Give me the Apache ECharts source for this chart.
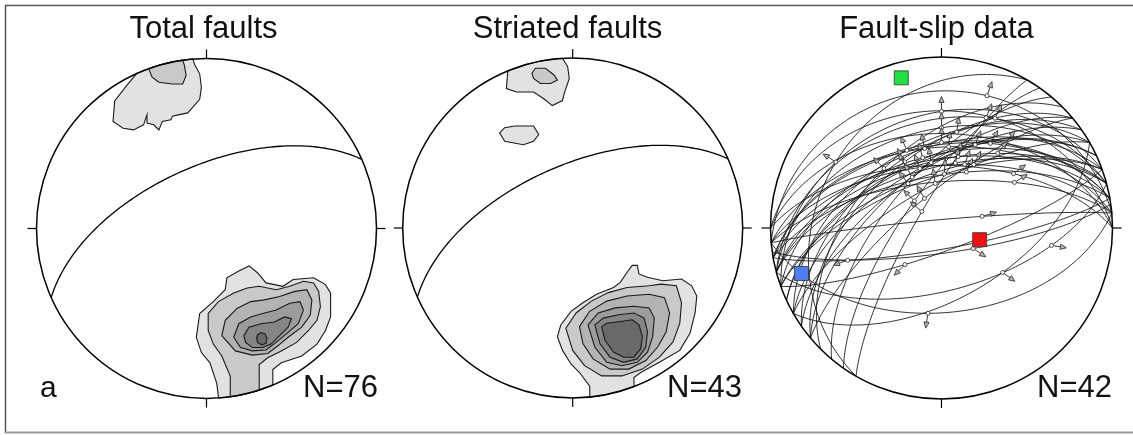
<!DOCTYPE html>
<html><head><meta charset="utf-8">
<script src="https://cdn.jsdelivr.net/npm/echarts@6/dist/echarts.min.js"></script>
<style>html,body{margin:0;padding:0;background:#fff}#c{width:1133px;height:435px}</style>
</head><body><div id="c"></div>
<script>
// ---------------- DATA ----------------
const titles = ['Total faults', 'Striated faults', 'Fault-slip data'];
const counts = ['N=76', 'N=43', 'N=42'];
const panelLetter = 'a';

// mean plane shown in panels 1 & 2 : [dip direction, dip]
const meanPlane = [336, 60];

// density contours, equal-area stereonet coordinates (unit primitive)
const totalTopL1 = [[-0.42,0.93],[-0.47,0.84],[-0.54,0.75],[-0.55,0.63],[-0.49,0.59],[-0.43,0.58],[-0.37,0.61],[-0.35,0.67],[-0.35,0.62],[-0.31,0.61],[-0.28,0.58],[-0.26,0.63],[-0.21,0.64],[-0.20,0.66],[-0.16,0.67],[-0.11,0.68],[-0.04,0.76],[-0.03,0.83],[-0.04,0.91],[-0.07,0.965],[-0.08,1.0]];
const totalTopL2 = [[-0.34,0.94],[-0.32,0.89],[-0.28,0.86],[-0.20,0.85],[-0.14,0.85],[-0.12,0.90],[-0.13,0.96],[-0.14,0.99]];
const totalL1 = [[0.07,-0.98],[0.06,-0.91],[0.02,-0.79],[-0.03,-0.73],[-0.06,-0.64],[-0.04,-0.50],[0.04,-0.43],[0.11,-0.36],[0.12,-0.29],[0.19,-0.25],[0.25,-0.22],[0.30,-0.26],[0.35,-0.32],[0.45,-0.34],[0.51,-0.30],[0.63,-0.29],[0.70,-0.33],[0.73,-0.38],[0.73,-0.52],[0.70,-0.60],[0.65,-0.68],[0.56,-0.75],[0.44,-0.79],[0.39,-0.83],[0.39,-0.92]];
const totalL2 = [[0.14,-0.99],[0.14,-0.87],[0.09,-0.75],[0.04,-0.68],[0.01,-0.60],[0.01,-0.50],[0.07,-0.43],[0.16,-0.38],[0.24,-0.35],[0.31,-0.34],[0.41,-0.36],[0.49,-0.34],[0.57,-0.31],[0.63,-0.32],[0.66,-0.37],[0.67,-0.46],[0.65,-0.54],[0.60,-0.60],[0.53,-0.67],[0.44,-0.72],[0.36,-0.76],[0.31,-0.80],[0.31,-0.95]];
const totalL3 = [[0.09,-0.63],[0.11,-0.54],[0.18,-0.47],[0.26,-0.43],[0.34,-0.42],[0.43,-0.40],[0.52,-0.37],[0.59,-0.36],[0.62,-0.42],[0.61,-0.51],[0.56,-0.58],[0.48,-0.64],[0.42,-0.69],[0.36,-0.735],[0.27,-0.745],[0.17,-0.72]];
const totalL4 = [[0.16,-0.64],[0.19,-0.56],[0.26,-0.52],[0.33,-0.50],[0.41,-0.48],[0.49,-0.44],[0.55,-0.43],[0.57,-0.48],[0.54,-0.56],[0.47,-0.62],[0.41,-0.67],[0.35,-0.715],[0.27,-0.72],[0.20,-0.70]];
const totalL5 = [[0.22,-0.63],[0.25,-0.58],[0.32,-0.56],[0.40,-0.55],[0.46,-0.52],[0.50,-0.53],[0.48,-0.58],[0.43,-0.63],[0.38,-0.68],[0.33,-0.70],[0.27,-0.70],[0.23,-0.67]];
const totalL6 = [[0.30,-0.625],[0.32,-0.612],[0.345,-0.62],[0.355,-0.645],[0.35,-0.675],[0.325,-0.685],[0.30,-0.67],[0.295,-0.645]];

const striTopL1 = [[-0.38,0.92],[-0.39,0.82],[-0.33,0.80],[-0.23,0.80],[-0.17,0.76],[-0.12,0.72],[-0.06,0.75],[-0.05,0.79],[-0.02,0.88],[-0.03,0.95],[-0.06,0.98],[-0.09,0.99]];
const striTopL2 = [[-0.24,0.91],[-0.22,0.94],[-0.16,0.94],[-0.11,0.90],[-0.09,0.87],[-0.13,0.85],[-0.19,0.85],[-0.23,0.88]];
const striIsland = [[-0.43,0.56],[-0.40,0.59],[-0.34,0.60],[-0.23,0.60],[-0.20,0.55],[-0.23,0.51],[-0.29,0.49],[-0.40,0.51]];
const striL1 = [[0.10,-0.99],[0.10,-0.93],[0.04,-0.85],[-0.01,-0.80],[-0.06,-0.72],[-0.09,-0.64],[-0.07,-0.57],[-0.01,-0.49],[0.06,-0.44],[0.14,-0.39],[0.24,-0.35],[0.28,-0.32],[0.32,-0.26],[0.35,-0.22],[0.38,-0.22],[0.39,-0.27],[0.44,-0.29],[0.53,-0.31],[0.64,-0.30],[0.70,-0.34],[0.73,-0.40],[0.72,-0.50],[0.69,-0.62],[0.63,-0.72],[0.51,-0.79],[0.40,-0.85],[0.36,-0.88],[0.36,-0.93]];
const striL2 = [[-0.04,-0.59],[0.02,-0.50],[0.11,-0.43],[0.21,-0.38],[0.32,-0.35],[0.45,-0.34],[0.52,-0.33],[0.61,-0.34],[0.64,-0.44],[0.63,-0.56],[0.59,-0.67],[0.51,-0.76],[0.41,-0.83],[0.29,-0.87],[0.17,-0.87],[0.07,-0.81],[0.0,-0.72]];
const striL3 = [[0.04,-0.58],[0.10,-0.49],[0.20,-0.43],[0.32,-0.40],[0.45,-0.39],[0.54,-0.41],[0.57,-0.50],[0.55,-0.61],[0.50,-0.70],[0.43,-0.78],[0.33,-0.83],[0.22,-0.83],[0.12,-0.77],[0.06,-0.68]];
const striL4 = [[0.09,-0.57],[0.15,-0.50],[0.25,-0.47],[0.36,-0.46],[0.45,-0.47],[0.48,-0.53],[0.47,-0.64],[0.44,-0.73],[0.38,-0.79],[0.29,-0.81],[0.20,-0.79],[0.13,-0.70]];
const striL5 = [[0.13,-0.57],[0.18,-0.53],[0.27,-0.51],[0.36,-0.50],[0.42,-0.53],[0.44,-0.61],[0.43,-0.70],[0.38,-0.77],[0.30,-0.79],[0.22,-0.76],[0.16,-0.68]];
const striL6 = [[0.17,-0.58],[0.20,-0.56],[0.28,-0.55],[0.35,-0.54],[0.39,-0.57],[0.41,-0.64],[0.40,-0.71],[0.36,-0.76],[0.30,-0.76],[0.24,-0.73],[0.19,-0.66]];

// fault-slip data: plane dip direction, dip, striation trend
const faultDipDir = [300,315,330,320,335,325,310,340,345,330,340,345,350,355,350,345,340,350,355,355,345,0,350,0,0,355,305,320,355,172,165,150,160,170,175,330,340,320,345,325,335,300];
const faultDip    = [28,50,49,54,56,62,64,51,55,60,34,42,49,51,57,61,64,65,60,21,37,32,50,44,60,68,72,74,86,78,60,56,79,80,49,70,66,62,58,52,57,78];
const striaTrend  = [302,316,336,331,330,330,323,348,345,340,0,0,0,5,13,12,20,24,27,19,22,26,30,37,53,58,315,330,74,123,99,126,225,251,189,352,3,351,37,9,22,310];

// stress axes (trend, plunge)
const stressTrend  = [107, 345, 252];
const stressPlunge = [71, 10, 15];

// ---------------- GEOMETRY ----------------
const D2R = Math.PI / 180;
const layout = [{cx:206.5, cy:228.5, r:170}, {cx:572.7, cy:228, r:170}, {cx:941.5, cy:228, r:171}];
const levelFill = [null,'#e2e2e2','#c9c9c9','#b3b3b3','#9c9c9c','#858585','#6a6a6a'];
const stressColors = ['#ee1111', '#22dd44', '#4d7ff2'];

function proj(trend, plunge) {
  const r = Math.SQRT2 * Math.sin((90 - plunge) / 2 * D2R);
  return [r * Math.sin(trend * D2R), r * Math.cos(trend * D2R)];
}
function planeCurve(dd, dip, n) {
  const pts = [], s = (dd - 90) * D2R, d = dd * D2R, dp = dip * D2R;
  for (let k = 0; k <= n; k++) {
    const f = k / n * Math.PI;
    const e = Math.cos(f) * Math.sin(s) + Math.sin(f) * Math.cos(dp) * Math.sin(d);
    const no = Math.cos(f) * Math.cos(s) + Math.sin(f) * Math.cos(dp) * Math.cos(d);
    const dn = Math.sin(f) * Math.sin(dp);
    pts.push(proj(Math.atan2(e, no) / D2R, Math.asin(Math.min(1, dn)) / D2R));
  }
  return pts;
}
function pushArc(out, a, b) {
  const a1 = Math.atan2(a[1], a[0]); let d = Math.atan2(b[1], b[0]) - a1;
  while (d > Math.PI) d -= 2 * Math.PI; while (d < -Math.PI) d += 2 * Math.PI;
  const steps = Math.max(2, Math.ceil(Math.abs(d) / 0.02));
  for (let k = 1; k < steps; k++) { const an = a1 + d * k / steps; out.push([Math.cos(an), Math.sin(an)]); }
}
function ring(pts) {
  const TH = 0.975;
  const arr = pts.map(p => { const r = Math.hypot(p[0], p[1]); return r >= TH ? {p:[p[0]/r, p[1]/r], b:true} : {p:p, b:false}; });
  const out = [];
  for (let i = 0; i < arr.length; i++) {
    if (i > 0 && arr[i-1].b && arr[i].b) pushArc(out, arr[i-1].p, arr[i].p);
    out.push(arr[i].p);
  }
  const n = arr.length;
  if (arr[n-1].b && arr[0].b) pushArc(out, arr[n-1].p, arr[0].p);
  return out;
}

const totalContours = [[1,totalTopL1],[2,totalTopL2],[1,totalL1],[2,totalL2],[3,totalL3],[4,totalL4],[5,totalL5],[6,totalL6]];
const striContours  = [[1,striTopL1],[2,striTopL2],[1,striIsland],[1,striL1],[2,striL2],[3,striL3],[4,striL4],[5,striL5],[6,striL6]];

function contourSeries(list, gi) {
  return {
    type:'custom', xAxisIndex:gi, yAxisIndex:gi, clip:false, silent:true, z:1,
    data: list.map((c, i) => [0, 0, i]),
    renderItem: function (params, api) {
      const c = list[api.value(2)];
      const pts = ring(c[1]).map(p => api.coord(p));
      return {type:'polygon', shape:{points:pts}, style:{fill:levelFill[c[0]], stroke:'#1a1a1a', lineWidth:1.1}};
    }
  };
}
function frameSeries(gi) {
  return {
    type:'custom', xAxisIndex:gi, yAxisIndex:gi, clip:false, silent:true, z:5,
    data:[[0,0,0]],
    renderItem: function (params, api) {
      const c = api.coord([0,0]); const r = api.coord([1,0])[0] - c[0]; const t = 9;
      const ln = (x1,y1,x2,y2) => ({type:'line', shape:{x1,y1,x2,y2}, style:{stroke:'#000', lineWidth:1.2}});
      return {type:'group', children:[
        {type:'circle', shape:{cx:c[0], cy:c[1], r:r}, style:{fill:'none', stroke:'#000', lineWidth:1.5}},
        ln(c[0], c[1]-r-t, c[0], c[1]-r), ln(c[0], c[1]+r, c[0], c[1]+r+t),
        ln(c[0]-r-t, c[1], c[0]-r, c[1]), ln(c[0]+r, c[1], c[0]+r+t, c[1])
      ]};
    }
  };
}
function meanPlaneSeries(gi) {
  return {
    type:'custom', xAxisIndex:gi, yAxisIndex:gi, clip:false, silent:true, z:3,
    data:[[0,0,0]],
    renderItem: function (params, api) {
      const pts = planeCurve(meanPlane[0], meanPlane[1], 120).map(p => api.coord(p));
      return {type:'polyline', shape:{points:pts}, style:{fill:'none', stroke:'#000', lineWidth:1.3}};
    }
  };
}
const faultPlanes = {
  type:'custom', xAxisIndex:2, yAxisIndex:2, clip:false, silent:true, z:2,
  data: faultDipDir.map((d, i) => [0, 0, i]),
  renderItem: function (params, api) {
    const i = api.value(2);
    const pts = planeCurve(faultDipDir[i], faultDip[i], 120).map(p => api.coord(p));
    return {type:'polyline', shape:{points:pts}, style:{fill:'none', stroke:'#1a1a1a', lineWidth:0.9}};
  }
};
const slipArrows = {
  type:'custom', xAxisIndex:2, yAxisIndex:2, clip:false, silent:true, z:4,
  data: faultDipDir.map((d, i) => [0, 0, i]),
  renderItem: function (params, api) {
    const i = api.value(2), t = striaTrend[i];
    const pl = Math.atan(Math.tan(faultDip[i] * D2R) * Math.cos((t - faultDipDir[i]) * D2R)) / D2R;
    const P = api.coord(proj(t, pl));
    const ux = Math.sin(t * D2R), uy = -Math.cos(t * D2R), px = -uy, py = ux;
    const at = k => [P[0] + ux * k, P[1] + uy * k];
    const b = at(9), tip = at(15);
    return {type:'group', children:[
      {type:'line', shape:{x1:at(2)[0], y1:at(2)[1], x2:b[0], y2:b[1]}, style:{stroke:'#222', lineWidth:0.9}},
      {type:'polygon', shape:{points:[tip, [b[0]+px*2.6, b[1]+py*2.6], [b[0]-px*2.6, b[1]-py*2.6]]}, style:{fill:'#b5b5b5', stroke:'#222', lineWidth:0.8}},
      {type:'circle', shape:{cx:P[0], cy:P[1], r:2}, style:{fill:'#fff', stroke:'#222', lineWidth:0.8}}
    ]};
  }
};
const stressAxes = {
  type:'scatter', xAxisIndex:2, yAxisIndex:2, symbol:'rect', symbolSize:14, z:6, silent:true,
  data: stressTrend.map((t, i) => ({value: proj(t, stressPlunge[i]), itemStyle:{color: stressColors[i], borderColor:'#333', borderWidth:0.8, opacity:1}}))
};

const font = '"Liberation Sans", Arial, sans-serif';
const graphics = [
  {type:'line', shape:{x1:5, y1:5.5, x2:1133, y2:5.5}, style:{stroke:'#555', lineWidth:1.5}},
  {type:'line', shape:{x1:5.5, y1:5, x2:5.5, y2:433}, style:{stroke:'#555', lineWidth:1.5}},
  {type:'line', shape:{x1:5, y1:432.5, x2:1133, y2:432.5}, style:{stroke:'#999', lineWidth:2}},
  {type:'text', style:{text:panelLetter, x:40, y:389, font:'30px ' + font, fill:'#111', textAlign:'left', verticalAlign:'middle'}}
];
const titleX = [203.5, 567.5, 936.5], countX = [378, 742, 1112];
titles.forEach((t, i) => graphics.push({type:'text', style:{text:t, x:titleX[i], y:29, font:'31px ' + font, fill:'#111', textAlign:'center', verticalAlign:'middle'}}));
counts.forEach((t, i) => graphics.push({type:'text', style:{text:t, x:countX[i], y:388.5, font:'31px ' + font, fill:'#111', textAlign:'right', verticalAlign:'middle'}}));

const option = {
  animation:false,
  backgroundColor:'#fff',
  grid: layout.map(l => ({left:l.cx - l.r, top:l.cy - l.r, width:2*l.r, height:2*l.r})),
  xAxis: layout.map((l, i) => ({gridIndex:i, type:'value', min:-1, max:1, show:false})),
  yAxis: layout.map((l, i) => ({gridIndex:i, type:'value', min:-1, max:1, show:false})),
  graphic: graphics,
  series: [
    contourSeries(totalContours, 0), contourSeries(striContours, 1),
    meanPlaneSeries(0), meanPlaneSeries(1),
    faultPlanes, slipArrows, stressAxes,
    frameSeries(0), frameSeries(1), frameSeries(2)
  ]
};
const chart = echarts.init(document.getElementById('c'));
chart.setOption(option);
</script></body></html>
